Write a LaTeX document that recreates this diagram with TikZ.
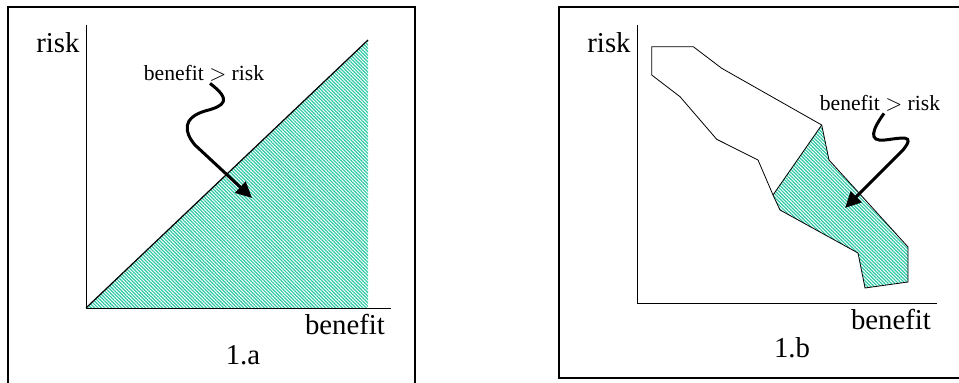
\documentclass[tikz,border=0pt]{standalone}
\usepackage{fontspec}
\setmainfont{Liberation Serif}
\usepackage{xcolor}
\usetikzlibrary{arrows.meta,patterns.meta}
\definecolor{hatchgreen}{RGB}{45,200,165}
\tikzset{
  axislbl/.style={font=\fontsize{14.4}{16}\selectfont, inner sep=0pt},
  notelbl/.style={font=\fontsize{10.8}{12}\selectfont, inner sep=0pt},
  hatched/.style={pattern={Lines[angle=-45,distance=1.2pt,line width=0.6pt]}, pattern color=hatchgreen},
  wiggle/.style={line width=1.5pt, -{Triangle[length=8pt,width=7.5pt]}},
  frame/.style={line width=0.8pt}
}

\begin{document}
\begin{tikzpicture}[x=0.5pt,y=-0.5pt]  % one unit = one pixel, y downwards
    \useasboundingbox (0,0) rectangle (959,383);
    % Frames (both run off the page edge)
    \draw[frame] (8,383) -- (8,7) -- (415,7) -- (415,383);
    \draw[line width=1.1pt] (8,383) -- (8,7);
    \draw[frame] (959,7) -- (559,7) -- (559,378) -- (959,378);

    % ---- 1.a ----
    \fill[hatched] (86,308) -- (368,40) -- (368,308) -- cycle;
    \draw[semithick] (86,308) -- (368,40);
    % Axes
    \draw[thin] (86,25) -- (86,308) -- (391,308);
    \node[axislbl] (riskA) at (58,43) {risk};
    \node[axislbl] (benA) at (345,325) {benefit};
    \node[axislbl] (capA) at (243,355) {1.a};
    \node[notelbl] (noteA) at (204,73) {benefit $>$ risk};
    \coordinate (tipA) at (252,198);
    \draw[wiggle] (noteA.south) ++(6,2)
        .. controls (232,100) and (225,106) .. (205,111)
        .. controls (182,118) and (184,132) .. (195,145) -- (tipA);

    % ---- 1.b ----
    \fill[hatched] (821.7,125) -- (829,160) -- (908,247) -- (908,282)
        -- (865,288) -- (858,253) -- (780,210) -- (773,195) -- cycle;
    \draw[thin] (651.7,46.7) -- (693.3,46.7) -- (721.7,68.3) -- (821.7,125)
        -- (829,160) -- (908,247) -- (908,282) -- (865,288) -- (858,253)
        -- (780,210) -- (773,195) -- (758,160) -- (716.7,139.3)
        -- (680,96.7) -- (651.7,75) -- cycle;
    \draw[thin] (773,195) -- (821.7,125);
    % Axes
    \draw[thin] (637,25) -- (637,303) -- (937,303);
    \node[axislbl] (riskB) at (609,43) {risk};
    \node[axislbl] (benB) at (891,320) {benefit};
    \node[axislbl] (capB) at (792,348) {1.b};
    \node[notelbl] (noteB) at (880,103) {benefit $>$ risk};
    \coordinate (tipB) at (845,208);
    \draw[wiggle] (noteB.south) ++(4,2)
        .. controls (872,130) and (868,142) .. (885,140)
        .. controls (902,138) and (916,134) .. (903,150) -- (tipB);
\end{tikzpicture}
\end{document}
